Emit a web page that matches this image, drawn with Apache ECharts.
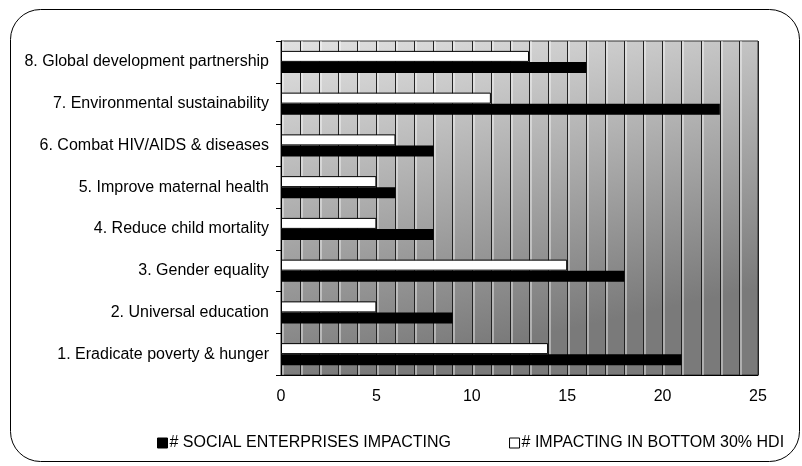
<!DOCTYPE html>
<html><head><meta charset="utf-8">
<script src="https://cdn.jsdelivr.net/npm/echarts@6/dist/echarts.min.js"></script>
<style>html,body{margin:0;padding:0;background:#fff}#c{width:802px;height:466px}</style>
</head><body><div id="c"></div>
<script>
var categories = ['1. Eradicate poverty & hunger','2. Universal education','3. Gender equality','4. Reduce child mortality','5. Improve maternal health','6. Combat HIV/AIDS & diseases','7. Environmental sustainability','8. Global development partnership'];
var socialEnterprises = [21, 9, 18, 8, 6, 8, 23, 16];
var bottom30HDI = [14, 5, 15, 5, 5, 6, 11, 13];
var seriesNames = ['# SOCIAL ENTERPRISES IMPACTING', '# IMPACTING IN BOTTOM 30% HDI'];
var xTickLabels = [0, 5, 10, 15, 20, 25];

var chart = echarts.init(document.getElementById('c'));
var font = 'Liberation Sans, Arial, sans-serif';
chart.setOption({
  animation: false,
  textStyle: {fontFamily: font},
  graphic: [{
    type: 'rect', left: 8, top: 7, z: -10,
    shape: {width: 789, height: 452, r: 30},
    style: {fill: 'none', stroke: '#000', lineWidth: 1}
  }],
  grid: {
    left: 281, right: 44, top: 41, bottom: 91,
    show: true, borderColor: '#333', borderWidth: 1,
    backgroundColor: {type: 'linear', x: 0, y: 0, x2: 0.15, y2: 1,
      colorStops: [{offset: 0, color: '#e2e2e2'}, {offset: 1, color: '#7a7a7a'}]}
  },
  legend: {
    left: 152, top: 430, itemGap: 58, itemWidth: 10, itemHeight: 10,
    icon: 'rect',
    itemStyle: {borderWidth: 1},
    textStyle: {fontSize: 16, color: '#000', fontFamily: font, padding: [0,0,0,-3]},
    data: seriesNames
  },
  xAxis: {
    type: 'value', min: 0, max: 25, interval: 1,
    axisLine: {show: true, lineStyle: {color: '#000'}},
    axisTick: {show: false},
    splitLine: {show: true, lineStyle: {color: '#222', width: 1, shadowColor: 'rgba(255,255,255,0.8)', shadowOffsetX: 1.5}},
    axisLabel: {
      fontSize: 16, color: '#000', margin: 14, fontFamily: font,
      formatter: function (v) { return xTickLabels.indexOf(v) >= 0 ? String(v) : ''; }
    }
  },
  yAxis: {
    type: 'category', data: categories,
    axisLine: {show: true, lineStyle: {color: '#000'}},
    axisTick: {show: true, length: 5, lineStyle: {color: '#000'}},
    axisLabel: {fontSize: 16, color: '#000', margin: 12, fontFamily: font}
  },
  series: [{
    name: seriesNames[1], type: 'bar', data: bottom30HDI,
    barWidth: 11, barGap: '0%',
    itemStyle: {color: '#fff', borderColor: '#000', borderWidth: 1}
  }, {
    name: seriesNames[0], type: 'bar', data: socialEnterprises,
    barWidth: 11, barGap: '0%',
    itemStyle: {color: '#000', borderColor: '#000', borderWidth: 0}
  }]
});
</script></body></html>
